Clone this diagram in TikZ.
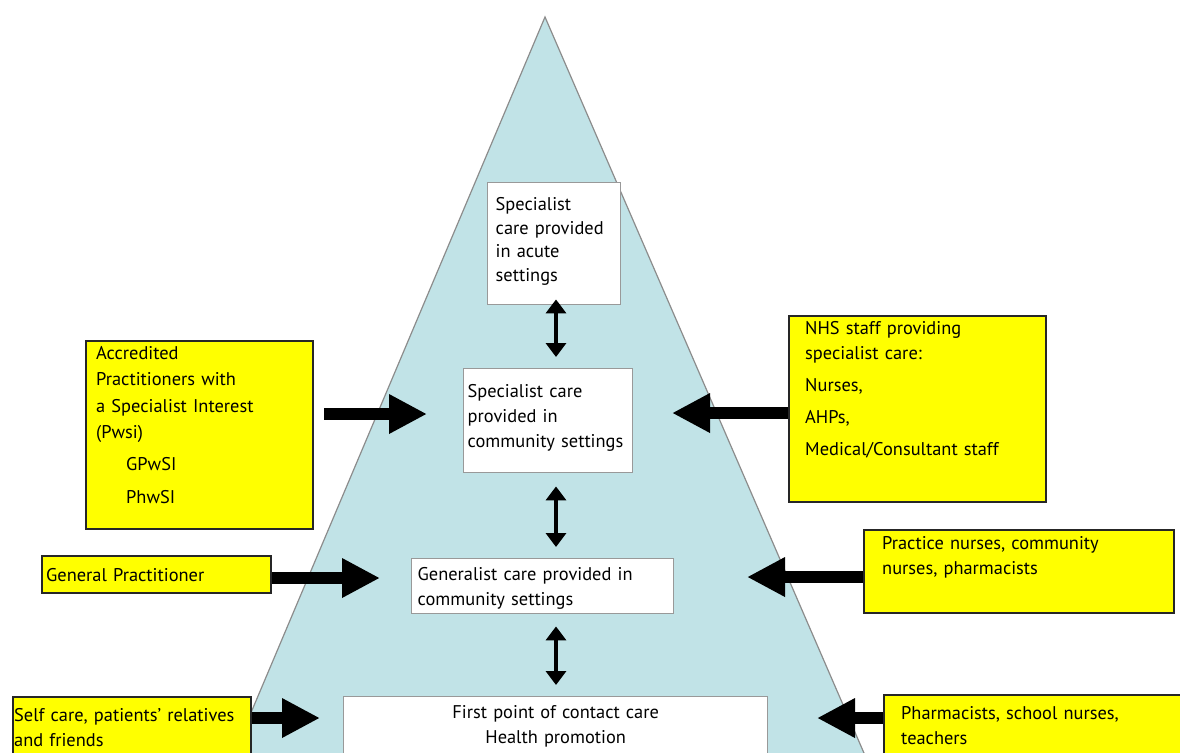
\documentclass[tikz,border=0pt]{standalone}
\usepackage{fontspec}
\setmainfont{PT Sans}
\usetikzlibrary{arrows.meta}
\hyphenpenalty=10000
\exhyphenpenalty=10000
\definecolor{pyramidblue}{RGB}{193,227,231}
\definecolor{highlight}{RGB}{255,255,0}
\tikzset{
  care/.style={draw=black!40, fill=white, line width=0.7pt, anchor=north west, align=left, inner ysep=0pt},
  staff/.style={draw=black!85, fill=highlight, line width=1.2pt, anchor=north west, align=left, inner ysep=0pt},
  feed/.style={line width=6pt, -{Triangle[length=19pt,width=18.5pt]}},
  link/.style={line width=2pt, {Triangle[length=7pt,width=10pt]}-{Triangle[length=7pt,width=10pt]}},
}
\begin{document}
\begin{tikzpicture}[x=0.5pt, y=-0.5pt, every node/.style={font=\fontsize{9.2}{12.5}\selectfont}]
   \clip (0,0) rectangle (1180,752);
   \filldraw[fill=pyramidblue, draw=black!45, line width=0.6pt] (545,17) -- (231,760) -- (867,760) -- cycle;
   % levels of care
   \node[care, inner xsep=4pt, text width=58.5pt, text height=14pt, text depth=47pt,
      font=\fontsize{9.2}{11.8}\selectfont] (acute) at (487,182) {Specialist\\care provided\\in acute\\settings};
   \node[care, inner xsep=2pt, text width=80.5pt, text height=14.5pt, text depth=37.5pt] (scom) at (463,368)
      {Specialist care\\provided in\\\mbox{community settings}};
   \node[care, inner xsep=3pt, text width=125pt, text height=11pt, text depth=16.5pt] (gen) at (411,558)
      {Generalist care provided in\\community settings};
   \node[care, align=center, inner xsep=3pt, text width=206pt, text height=11pt, text depth=18pt] (first) at (343,696)
      {First point of contact care\\Health promotion};
   % who provides it
   \node[staff, inner xsep=5pt, text width=103.5pt, text height=9pt, text depth=85pt,
      font=\fontsize{9.2}{13.2}\selectfont] (acc) at (85,340)
      {Accredited\\Practitioners with\\a Specialist Interest\\(Pwsi)\\[3pt]\hspace*{15pt}GPwSI\\[3pt]\hspace*{15pt}PhwSI};
   \node[staff, inner xsep=8pt, text width=112.5pt, text height=9pt, text depth=84pt] (nhs) at (788,315)
      {NHS staff providing\\specialist care:\\[3.5pt]Nurses,\\[3.5pt]AHPs,\\[3.5pt]Medical/Consultant staff};
   \node[staff, inner xsep=9pt, text width=137pt, text height=9.5pt, text depth=32pt] (prac) at (863,529)
      {Practice nurses, community\\nurses, pharmacists};
   \node[staff, inner xsep=2pt, text width=110.5pt, text height=12.5pt, text depth=6pt] (gp) at (41,555)
      {General Practitioner};
   \node[staff, inner xsep=0.5pt, text width=118pt, text height=12pt, text depth=20pt] (self) at (12,696)
      {Self care, patients’ relatives\\and friends};
   \node[staff, inner xsep=8.5pt, text width=132.5pt, text height=12pt, text depth=20pt] (pharm) at (883,694)
      {Pharmacists, school nurses,\\teachers};
   % arrow tips
   \coordinate (accTip) at (427,414);
   \coordinate (nhsTip) at (672,413);
   \coordinate (pracTip) at (747,577);
   \coordinate (gpTip) at (380,578);
   \coordinate (selfTip) at (320,718);
   \coordinate (pharmTip) at (817,718);
   \coordinate (spine) at (556,0);
   \draw[feed] ([xshift=5pt]acc.east |- accTip) -- (accTip);
   \draw[feed] (nhs.west |- nhsTip) -- (nhsTip);
   \draw[feed] (prac.west |- pracTip) -- (pracTip);
   \draw[feed] (gp.east |- gpTip) -- (gpTip);
   \draw[feed] (self.east |- selfTip) -- (selfTip);
   \draw[feed] (pharm.west |- pharmTip) -- (pharmTip);
   \draw[link, shorten <=-3pt, shorten >=5.5pt] (acute.south -| spine) -- (scom.north -| spine);
   \draw[link, shorten <=6.5pt, shorten >=5.5pt] (scom.south -| spine) -- (gen.north -| spine);
   \draw[link, shorten <=6pt, shorten >=5.5pt] (gen.south -| spine) -- (first.north -| spine);
\end{tikzpicture}
\end{document}
